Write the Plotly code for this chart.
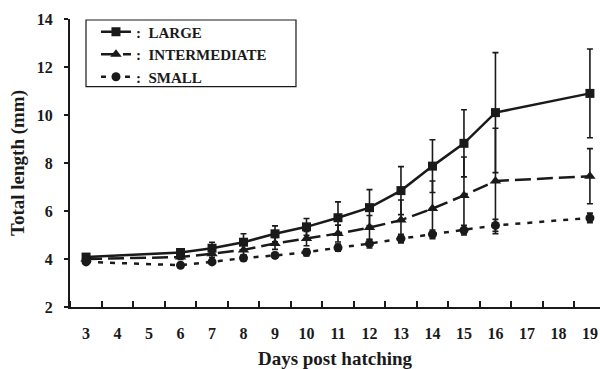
import plotly.graph_objects as go

# ---- data ----
days = [3, 6, 7, 8, 9, 10, 11, 12, 13, 14, 15, 16, 19]
large = [4.08, 4.27, 4.45, 4.70, 5.05, 5.34, 5.72, 6.14, 6.85, 7.87, 8.82, 10.10, 10.90]
large_err = [0.05, 0.15, 0.25, 0.35, 0.33, 0.35, 0.66, 0.75, 1.0, 1.1, 1.4, 2.5, 1.85]
inter = [4.00, 4.08, 4.22, 4.38, 4.65, 4.85, 5.06, 5.31, 5.62, 6.10, 6.65, 7.25, 7.45]
inter_err = [0.05, 0.10, 0.15, 0.2, 0.25, 0.3, 0.35, 0.5, 0.84, 1.15, 1.6, 2.2, 1.15]
small = [3.88, 3.74, 3.88, 4.04, 4.15, 4.28, 4.47, 4.64, 4.85, 5.03, 5.20, 5.40, 5.71]
small_err = [0.05, 0.08, 0.10, 0.10, 0.12, 0.15, 0.15, 0.18, 0.18, 0.18, 0.2, 0.25, 0.2]

tick_days = list(range(3, 20))
tick_labels = [str(d) for d in tick_days]
y_ticks = [2, 4, 6, 8, 10, 12, 14]

FONT = "Liberation Serif"
BLACK = "#1a1a1a"

fig = go.Figure()

def add(name, y, err, symbol, dash, size):
    fig.add_trace(go.Scatter(
        x=days, y=y, name=name, mode="lines+markers",
        line=dict(color=BLACK, width=2.5, dash=dash),
        marker=dict(symbol=symbol, size=size, color=BLACK),
        error_y=dict(type="data", array=err, visible=True, color=BLACK,
                     thickness=1.6, width=3),
    ))

add(":  LARGE", large, large_err, "square", "solid", 9)
add(":  INTERMEDIATE", inter, inter_err, "triangle-up", "16px,6px", 10)
add(":  SMALL", small, small_err, "circle", "5px,7px", 9)

# legend frame (drawn as a shape so it can be wider than the entries)
fig.add_shape(type="rect", xref="paper", yref="paper",
              x0=0.0302, x1=0.4264, y0=0.765, y1=0.9965,
              line=dict(color=BLACK, width=1.2), fillcolor="rgba(0,0,0,0)")

fig.update_layout(
    width=600, height=369,
    margin=dict(l=70, r=0, t=19, b=62),
    paper_bgcolor="white", plot_bgcolor="white",
    font=dict(family=FONT, size=16, color=BLACK, weight="bold"),
    showlegend=True,
    legend=dict(
        x=0.049, y=1.012, xanchor="left", yanchor="top",
        borderwidth=0, bgcolor="rgba(0,0,0,0)",
        font=dict(family=FONT, size=15, color=BLACK, weight="bold"),
        tracegroupgap=0, itemwidth=30,
    ),
    xaxis=dict(
        range=[2.49, 19.32],
        tickmode="array", tickvals=tick_days, ticktext=tick_labels,
        ticks="", showgrid=False, zeroline=False,
        showline=True, linecolor=BLACK, linewidth=2.2,
        ticklabelstandoff=11,
        tickfont=dict(family=FONT, size=16, color=BLACK, weight="bold"),
        minor=dict(tick0=0.5, dtick=1, ticks="inside", ticklen=6,
                   tickwidth=2, tickcolor=BLACK, showgrid=False),
        title=dict(text="Days post hatching", standoff=10,
                   font=dict(family=FONT, size=19, color=BLACK, weight="bold")),
    ),
    yaxis=dict(
        range=[2, 14], tickmode="array", tickvals=y_ticks,
        ticks="outside", ticklen=4, tickwidth=2, tickcolor=BLACK,
        showgrid=False, zeroline=False,
        showline=True, linecolor=BLACK, linewidth=2.2,
        ticklabelstandoff=8,
        tickfont=dict(family=FONT, size=16, color=BLACK, weight="bold"),
        title=dict(text="Total length (mm)", standoff=7,
                   font=dict(family=FONT, size=19, color=BLACK, weight="bold")),
    ),
)

fig.write_html("out.html")
